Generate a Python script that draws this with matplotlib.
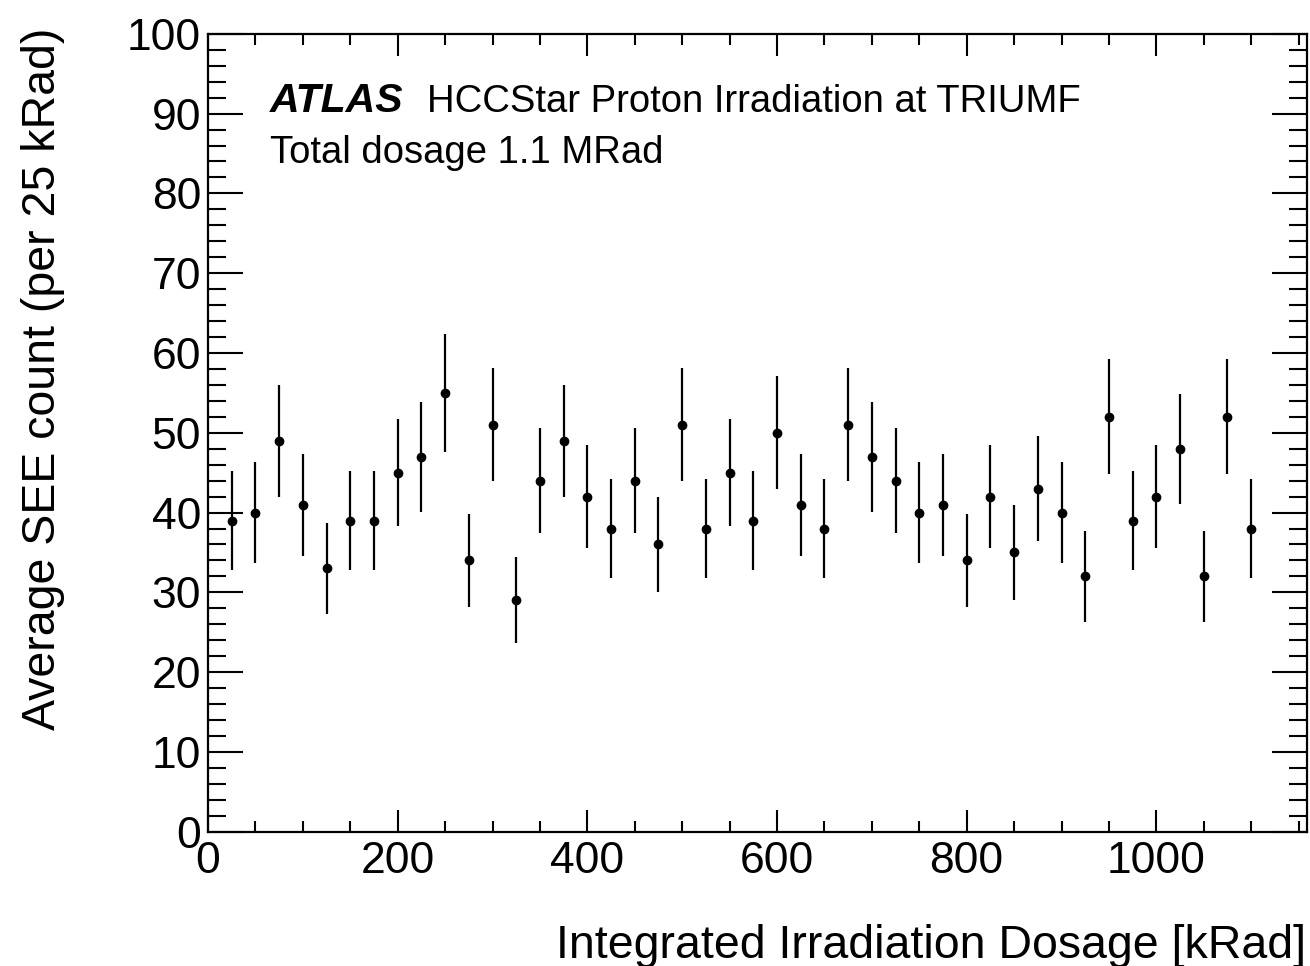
import matplotlib
matplotlib.use('Agg')
import numpy as np
from matplotlib import pyplot as plt
from matplotlib.ticker import MultipleLocator

plt.rcParams['font.family'] = ['Liberation Sans', 'DejaVu Sans']

# dose bin centres [kRad]
dose = [25, 50, 75, 100, 125, 150, 175, 200, 225, 250, 275, 300, 325, 350,
        375, 400, 425, 450, 475, 500, 525, 550, 575, 600, 625, 650, 675, 700,
        725, 750, 775, 800, 825, 850, 875, 900, 925, 950, 975, 1000, 1025,
        1050, 1075, 1100]
# SEE counts per 25 kRad
counts = [39, 40, 49, 41, 33, 39, 39, 45, 47, 55, 34, 51, 29, 44,
          49, 42, 38, 44, 36, 51, 38, 45, 39, 50, 41, 38, 51, 47,
          44, 40, 41, 34, 42, 35, 43, 40, 32, 52, 39, 42, 48,
          32, 52, 38]
# vertical error bars
errors = [6.2, 6.3, 7.0, 6.4, 5.7, 6.2, 6.2, 6.7, 6.9, 7.4, 5.8, 7.1, 5.4, 6.6,
          7.0, 6.5, 6.2, 6.6, 6.0, 7.1, 6.2, 6.7, 6.2, 7.1, 6.4, 6.2, 7.1, 6.9,
          6.6, 6.3, 6.4, 5.8, 6.5, 5.9, 6.6, 6.3, 5.7, 7.2, 6.2, 6.5, 6.9,
          5.7, 7.2, 6.2]

fig = plt.figure(figsize=(13.1, 9.66), dpi=100)
ax = fig.add_axes([0.1588, 0.139, 0.839, 0.826])

ax.errorbar(dose, counts, yerr=errors, fmt='o', color='black', ms=6,
            elinewidth=1.6, capsize=0)

ax.set_xlim(0, 1159)
ax.set_ylim(0, 100)
ax.xaxis.set_major_locator(MultipleLocator(200))
ax.xaxis.set_minor_locator(MultipleLocator(50))
ax.yaxis.set_major_locator(MultipleLocator(10))
ax.yaxis.set_minor_locator(MultipleLocator(2))

for side in ax.spines.values():
    side.set_linewidth(1.6)

ax.tick_params(axis='both', which='both', direction='in', top=True,
               right=True, width=1.5, labelsize=32)
ax.tick_params(axis='x', which='major', length=16, pad=7)
ax.tick_params(axis='x', which='minor', length=8)
ax.tick_params(axis='y', which='major', length=25, pad=5)
ax.tick_params(axis='y', which='minor', length=13)

fig.text(1306 / 1310, 1 - 958 / 966, 'Integrated Irradiation Dosage [kRad]',
         ha='right', va='baseline', fontsize=33.5)
fig.text(43 / 1310, 1 - 28 / 966, 'Average SEE count (per 25 kRad)',
         ha='center', va='top', rotation=90, fontsize=33.5)

ax.text(0.0564, 0.902, 'ATLAS', transform=ax.transAxes, fontsize=29.5,
        fontweight='bold', fontstyle='italic', va='baseline')
ax.text(0.199, 0.902, 'HCCStar Proton Irradiation at TRIUMF',
        transform=ax.transAxes, fontsize=27.5, va='baseline')
ax.text(0.0564, 0.838, 'Total dosage 1.1 MRad', transform=ax.transAxes,
        fontsize=27.5, va='baseline')

fig.savefig('out.png', dpi=100)
